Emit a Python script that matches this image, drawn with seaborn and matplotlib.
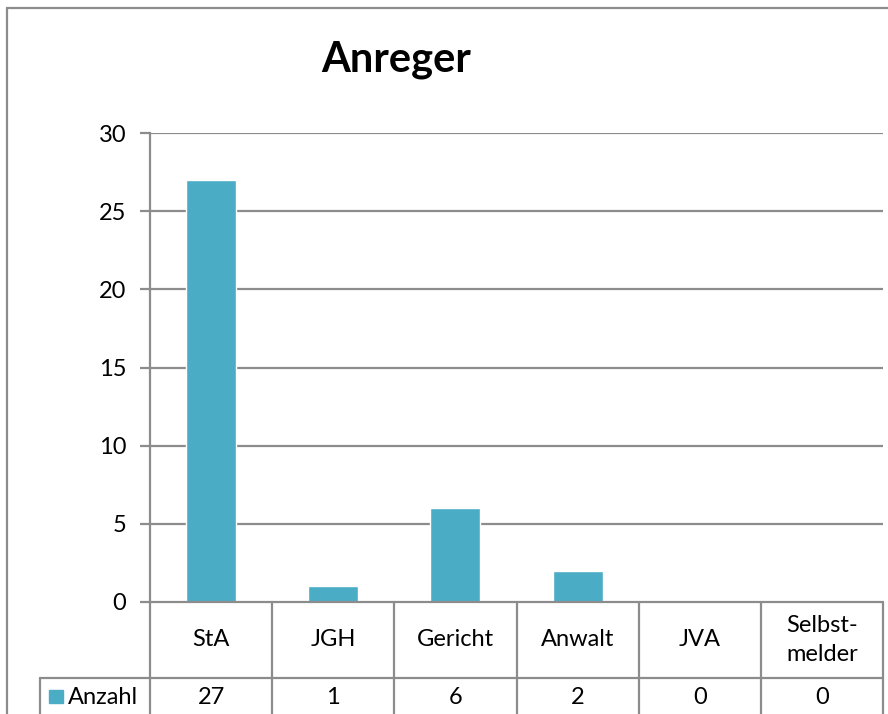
import matplotlib
matplotlib.use('AGG')
import matplotlib.pyplot as plt
import seaborn as sns
import pandas as pd
from matplotlib.lines import Line2D
from matplotlib.patches import Rectangle

kategorien = ['StA', 'JGH', 'Gericht', 'Anwalt', 'JVA', 'Selbst-\nmelder']
anzahl = [27, 1, 6, 2, 0, 0]
y_ticks = [0, 5, 10, 15, 20, 25, 30]
serie = 'Anzahl'
titel = 'Anreger'

farbe = '#4BACC6'
grau = '#8C8C8C'

sns.set_style('white')
plt.rcParams['font.family'] = ['Lato', 'DejaVu Sans']
plt.rcParams['text.color'] = 'black'
plt.rcParams['ytick.labelcolor'] = 'black'

W, H = 888, 714
fig = plt.figure(figsize=(W / 100, H / 100), dpi=100)

def fx(px):
    return px / W

def fy(py):
    return 1 - py / H

x0, x1, y0, y1 = 150, 883, 602, 133
ax = fig.add_axes([fx(x0), fy(y0), fx(x1) - fx(x0), fy(y1) - fy(y0)])

df = pd.DataFrame({'kategorie': kategorien, 'anzahl': anzahl})
sns.barplot(data=df, x='kategorie', y='anzahl', color=farbe, width=0.41,
            saturation=1, ax=ax, zorder=3)
ax.set_xlim(-0.5, len(kategorien) - 0.5)
ax.set_ylim(0, 30)
ax.set_yticks(y_ticks)
ax.set_yticklabels([str(t) for t in y_ticks], fontsize=17, color='black')
ax.set_xticks([])
ax.set_xlabel('')
ax.set_ylabel('')
for t in y_ticks[1:]:
    ax.axhline(t, color=grau, lw=1.6, zorder=1)
for s in ['top', 'right', 'bottom']:
    ax.spines[s].set_visible(False)
ax.spines['left'].set_color(grau)
ax.spines['left'].set_linewidth(1.6)
ax.tick_params(axis='y', length=7, width=1.6, color=grau, pad=10, left=True)

# Titel
fig.text(fx(396), fy(60), titel, ha='center', va='center', fontsize=30,
         fontweight='bold', color='black')

# Datentabelle unter der Achse
def linie(xa, ya, xb, yb):
    fig.add_artist(Line2D([fx(xa), fx(xb)], [fy(ya), fy(yb)], color=grau, lw=1.6))

row_top, row_mid, row_bot = 602, 678, 716
col_w = (x1 - x0) / len(kategorien)
linie(x0, row_top, x1, row_top)
linie(40, row_mid, x1, row_mid)
linie(40, row_mid, 40, row_bot)
for i in range(len(kategorien) + 1):
    xp = x0 + i * col_w
    linie(xp, row_top, xp, row_bot)
for i, (k, v) in enumerate(zip(kategorien, anzahl)):
    xc = x0 + (i + 0.5) * col_w
    fig.text(fx(xc), fy((row_top + row_mid) / 2), k, ha='center', va='center',
             fontsize=17, linespacing=1.45)
    fig.text(fx(xc), fy(697), str(v), ha='center', va='center', fontsize=17)

fig.add_artist(Rectangle((fx(49), fy(703)), fx(14), fy(690) - fy(703),
                         color=farbe, transform=fig.transFigure))
fig.text(fx(68), fy(697), serie, ha='left', va='center', fontsize=17)

# Rahmen des Diagramms
linie(7, 8, 890, 8)
linie(7, 8, 7, 716)

fig.savefig('out.png', dpi=100)
